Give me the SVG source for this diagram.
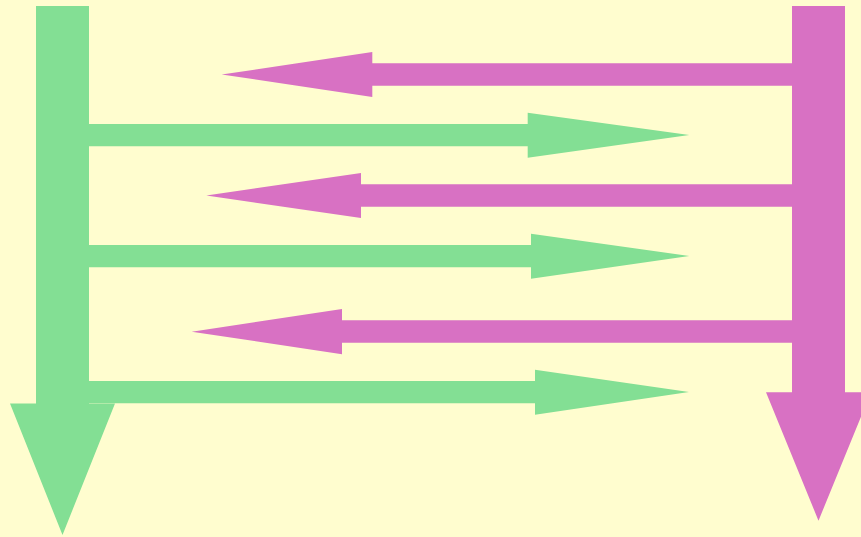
<svg xmlns="http://www.w3.org/2000/svg" width="861" height="537" viewBox="0 0 861 537">
  <style>
    .g { fill: #83DF94; }
    .m { fill: #D871C3; }
  </style>
  <rect width="861" height="537" fill="#FFFDCF"/>

  <!-- left lane: thick downward arrow -->
  <g id="lane-left">
    <polygon class="g" points="36,6 89,6 89,403.5 115,403.5 62.5,535 10,403.5 36,403.5"/>
  </g>

  <!-- right lane: thick downward arrow -->
  <g id="lane-right">
    <polygon class="m" points="792,6 845,6 845,392.3 871,392.3 818.5,520.7 766,392.3 792,392.3"/>
  </g>

  <!-- messages between the lanes -->
  <g id="connectors">
    <polygon class="m" points="792,63.3 792,85.7 372.3,85.7 372.3,97 221.7,74.5 372.3,52 372.3,63.3"/>
    <polygon class="g" points="89,124 527.7,124 527.7,112.7 689.3,135 527.7,157.7 527.7,146.3 89,146.3"/>
    <polygon class="m" points="792,184.3 792,206.7 361,206.7 361,218 206.3,195.5 361,173 361,184.3"/>
    <polygon class="g" points="89,245 531,245 531,233.7 689.3,256 531,278.7 531,267.3 89,267.3"/>
    <polygon class="m" points="792,320.3 792,342.7 342,342.7 342,354.3 191.7,331.7 342,309 342,320.3"/>
    <polygon class="g" points="89,381 535,381 535,369.7 689,392 535,414.7 535,403.3 89,403.3"/>
  </g>
</svg>
